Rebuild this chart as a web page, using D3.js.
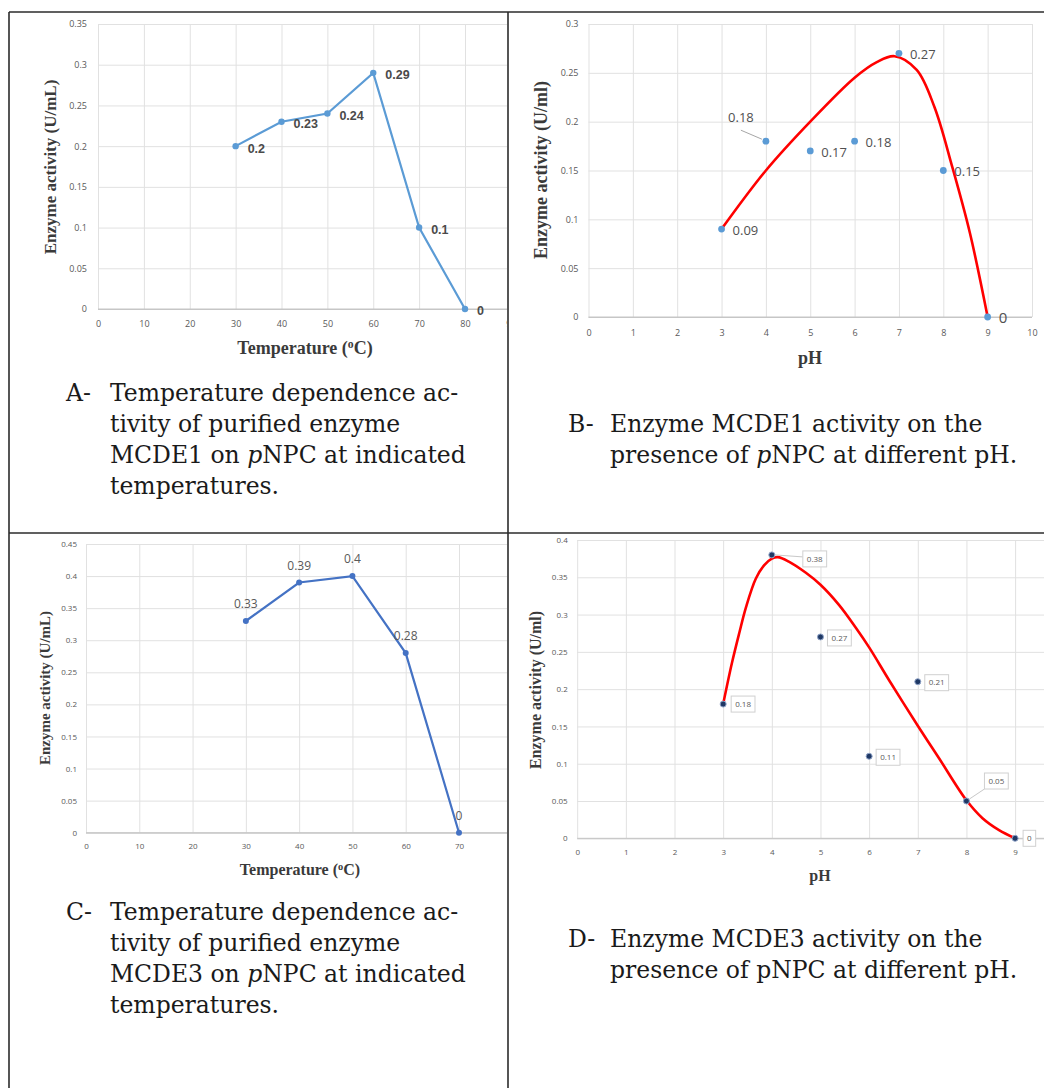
<!DOCTYPE html>
<html>
<head>
<meta charset="utf-8">
<script src="https://cdn.jsdelivr.net/npm/d3@7"></script>
<style>
  body { margin: 0; background: #fff; }
  .tick text { fill: #595959; font-family: "Open Sans", sans-serif; }
  .axisTitle { font-family: "Liberation Serif", serif; font-weight: bold; fill: #3a3a3a; }
  .caption { font-family: "DejaVu Serif", serif; fill: #1a1a1a; }
</style>
</head>
<body>
<div id="figure"></div>
<script>
var svgWidth = 1044;
var svgHeight = 1088;

// Panel A: MCDE1 vs temperature
var tempA = [30, 40, 50, 60, 70, 80];
var activityA = [0.2, 0.23, 0.24, 0.29, 0.1, 0];
var xTicksA = [0, 10, 20, 30, 40, 50, 60, 70, 80, 90];
var yTicksA = [0, 0.05, 0.1, 0.15, 0.2, 0.25, 0.3, 0.35];

// Panel B: MCDE1 vs pH (points + red trendline)
var phB = [3, 4, 5, 6, 7, 8, 9];
var activityB = [0.09, 0.18, 0.17, 0.18, 0.27, 0.15, 0];
var trendPhB = [3, 4, 5, 6, 6.5, 6.9, 7.4, 7.8, 8.2, 8.6, 9];
var trendB = [0.09, 0.15, 0.2, 0.245, 0.261, 0.267, 0.253, 0.215, 0.154, 0.086, 0];
var xTicksB = [0, 1, 2, 3, 4, 5, 6, 7, 8, 9, 10];
var yTicksB = [0, 0.05, 0.1, 0.15, 0.2, 0.25, 0.3];

// Panel C: MCDE3 vs temperature
var tempC = [30, 40, 50, 60, 70];
var activityC = [0.33, 0.39, 0.4, 0.28, 0];
var xTicksC = [0, 10, 20, 30, 40, 50, 60, 70];
var yTicksC = [0, 0.05, 0.1, 0.15, 0.2, 0.25, 0.3, 0.35, 0.4, 0.45];

// Panel D: MCDE3 vs pH
var phD = [3, 4, 5, 6, 7, 8, 9];
var activityD = [0.18, 0.38, 0.27, 0.11, 0.21, 0.05, 0];
var trendPhD = [3, 3.18, 3.33, 3.47, 3.67, 3.84, 4, 4.12, 4.35, 4.7, 5, 5.38, 5.73, 6, 6.42, 7, 7.44, 8, 8.33, 8.67, 9];
var trendD = [0.18, 0.235, 0.275, 0.31, 0.348, 0.366, 0.375, 0.377, 0.371, 0.356, 0.34, 0.313, 0.282, 0.256, 0.211, 0.151, 0.107, 0.051, 0.027, 0.011, 0];
var xTicksD = [0, 1, 2, 3, 4, 5, 6, 7, 8, 9];
var yTicksD = [0, 0.05, 0.1, 0.15, 0.2, 0.25, 0.3, 0.35, 0.4];

var fmt = d => String(+d.toFixed(2));

var svg = d3.select("#figure")
  .append("svg")
  .attr("width", svgWidth)
  .attr("height", svgHeight);

svg.append("rect").attr("width", svgWidth).attr("height", svgHeight).attr("fill", "#fff");

var defs = svg.append("defs");

function drawPanel(p) {
  defs.append("clipPath").attr("id", p.id)
    .append("rect").attr("x", p.clip[0]).attr("y", p.clip[1])
    .attr("width", p.clip[2]).attr("height", p.clip[3]);

  var g = svg.append("g").attr("clip-path", `url(#${p.id})`);

  var x = d3.scaleLinear().domain(p.xDomain).range(p.xRange);
  var y = d3.scaleLinear().domain(p.yDomain).range(p.yRange);
  var x0 = x(0), yBottom = y(0), yTop = y(p.yDomain[1]);

  // y axis with horizontal gridlines
  var leftAxis = d3.axisLeft(y)
    .tickValues(p.yTicks)
    .tickFormat(fmt)
    .tickSize(-(p.gridRight - x0))
    .tickPadding(p.yPad);
  var ya = g.append("g").attr("transform", `translate(${x0},0)`).call(leftAxis);
  ya.select(".domain").remove();
  ya.selectAll(".tick line").attr("stroke", d => d === 0 ? "#c6c6c6" : "#e1e1e1");
  ya.selectAll(".tick text").style("font-size", p.tickFont + "px");

  // x axis with vertical gridlines
  var bottomAxis = d3.axisBottom(x)
    .tickValues(p.xTicks)
    .tickFormat(fmt)
    .tickSize(-(yBottom - yTop))
    .tickPadding(p.xPad);
  var xa = g.append("g").attr("transform", `translate(0,${yBottom})`).call(bottomAxis);
  xa.select(".domain").remove();
  xa.selectAll(".tick line").attr("stroke", "#e1e1e1");
  xa.selectAll(".tick text").style("font-size", p.tickFont + "px");
  // keep the zero baseline on top of the vertical grid
  g.append("line").attr("x1", x0).attr("x2", p.gridRight)
    .attr("y1", yBottom).attr("y2", yBottom).attr("stroke", "#c6c6c6");

  // axis titles
  g.append("text").attr("class", "axisTitle")
    .attr("transform", `translate(${p.yTitle[0]},${p.yTitle[1]}) rotate(-90)`)
    .attr("text-anchor", "middle").attr("dy", "0.35em")
    .style("font-size", p.titleFont + "px")
    .text(p.yLabel);
  var xt = g.append("text").attr("class", "axisTitle")
    .attr("x", p.xTitle[0]).attr("y", p.xTitle[1])
    .attr("text-anchor", "middle").attr("dy", "0.35em")
    .style("font-size", p.xTitleFont + "px");
  if (p.degree) {
    xt.append("tspan").text("Temperature (");
    xt.append("tspan").attr("baseline-shift", "super").style("font-size", (p.xTitleFont * 0.65) + "px").text("o");
    xt.append("tspan").text("C)");
  } else {
    xt.text(p.xLabel);
  }

  var pts = p.xs.map((v, i) => ({x: v, y: p.ys[i], i: i}));

  if (p.trendX) {
    var trend = p.trendX.map((v, i) => [v, p.trendY[i]]);
    g.append("path")
      .datum(trend)
      .attr("fill", "none")
      .attr("stroke", "#ff0000")
      .attr("stroke-width", 2.6)
      .attr("d", d3.line().x(d => x(d[0])).y(d => y(d[1])).curve(d3.curveCatmullRom.alpha(0.5)));
  } else {
    g.append("path")
      .datum(pts)
      .attr("fill", "none")
      .attr("stroke", p.color)
      .attr("stroke-width", 2.2)
      .attr("d", d3.line().x(d => x(d.x)).y(d => y(d.y)));
  }

  g.append("g").selectAll("circle")
    .data(pts)
    .enter()
    .append("circle")
    .attr("cx", d => x(d.x))
    .attr("cy", d => y(d.y))
    .attr("r", p.r)
    .attr("fill", p.color)
    .attr("stroke", p.pointStroke || "none");

  p.labels(g, pts, x, y);
}

// Panel A
drawPanel({
  id: "clipA", clip: [10, 13, 497, 519],
  xDomain: [0, 80], xRange: [98, 465],
  yDomain: [0, 0.35], yRange: [309, 24],
  gridRight: 507, xTicks: xTicksA, yTicks: yTicksA,
  xPad: 12, yPad: 11, tickFont: 9,
  xs: tempA, ys: activityA, color: "#5b9bd5", r: 3.2,
  yLabel: "Enzyme activity (U/mL)", yTitle: [50, 167],
  degree: true, xTitle: [305, 348], titleFont: 17, xTitleFont: 18,
  labels: function(g, pts, x, y) {
    g.append("g").selectAll("text").data(pts).enter().append("text")
      .attr("x", d => x(d.x) + 12).attr("y", d => y(d.y) + 2)
      .attr("dy", "0.35em")
      .style("font-family", "'Liberation Sans', sans-serif")
      .style("font-weight", "bold").style("font-size", "12.5px")
      .attr("fill", "#4a4a4a")
      .text(d => fmt(d.y));
  }
});

// Panel B
drawPanel({
  id: "clipB", clip: [509, 13, 535, 519],
  xDomain: [0, 10], xRange: [588.5, 1032],
  yDomain: [0, 0.3], yRange: [317, 24],
  gridRight: 1032, xTicks: xTicksB, yTicks: yTicksB,
  xPad: 13, yPad: 10, tickFont: 9,
  xs: phB, ys: activityB, color: "#5b9bd5", r: 3.4,
  trendX: trendPhB, trendY: trendB,
  yLabel: "Enzyme activity (U/ml)", yTitle: [541, 170],
  xLabel: "pH", xTitle: [810, 358], titleFont: 18, xTitleFont: 18,
  labels: function(g, pts, x, y) {
    var lg = g.append("g");
    pts.forEach(function(d) {
      var px = x(d.x), py = y(d.y);
      if (d.i === 1) {
        lg.append("line").attr("x1", px - 25).attr("y1", py - 11)
          .attr("x2", px - 4).attr("y2", py - 2)
          .attr("stroke", "#a6a6a6").attr("stroke-width", 1);
        lg.append("text").attr("x", px - 25).attr("y", py - 24)
          .attr("text-anchor", "middle").attr("dy", "0.35em")
          .style("font-family", "'Open Sans', sans-serif").style("font-size", "13px")
          .attr("fill", "#505050").text(fmt(d.y));
      } else {
        lg.append("text").attr("x", px + 11).attr("y", py + 1)
          .attr("dy", "0.35em")
          .style("font-family", "'Open Sans', sans-serif")
          .style("font-size", d.y === 0 ? "15px" : "13px")
          .attr("fill", "#505050").text(fmt(d.y));
      }
    });
  }
});

// Panel C
drawPanel({
  id: "clipC", clip: [10, 535, 497, 553],
  xDomain: [0, 70], xRange: [86, 459],
  yDomain: [0, 0.45], yRange: [832.7, 544],
  gridRight: 507, xTicks: xTicksC, yTicks: yTicksC,
  xPad: 11, yPad: 9, tickFont: 8,
  xs: tempC, ys: activityC, color: "#4472c4", r: 3,
  yLabel: "Enzyme activity (U/mL)", yTitle: [45, 688],
  degree: true, xTitle: [300, 869], titleFont: 15, xTitleFont: 16,
  labels: function(g, pts, x, y) {
    g.append("g").selectAll("text").data(pts).enter().append("text")
      .attr("x", d => x(d.x)).attr("y", d => y(d.y) - 17)
      .attr("text-anchor", "middle").attr("dy", "0.35em")
      .style("font-family", "'Open Sans', sans-serif").style("font-size", "12px")
      .attr("fill", "#595959")
      .text(d => fmt(d.y));
  }
});

// Panel D (label boxes: offset of box from its point)
var boxOffsetD = [[8, 0], [31, 4], [7, 1], [7, 1], [7, 1], [18, -20], [8, 0]];
drawPanel({
  id: "clipD", clip: [509, 535, 535, 553],
  xDomain: [0, 9], xRange: [577.2, 1015.1],
  yDomain: [0, 0.4], yRange: [838.3, 540],
  gridRight: 1044, xTicks: xTicksD, yTicks: yTicksD,
  xPad: 11, yPad: 9.5, tickFont: 8,
  xs: phD, ys: activityD, color: "#1f3864", pointStroke: "#8fa3c8", r: 3,
  trendX: trendPhD, trendY: trendD,
  yLabel: "Enzyme activity (U/ml)", yTitle: [535, 690],
  xLabel: "pH", xTitle: [820, 875], titleFont: 16, xTitleFont: 16,
  labels: function(g, pts, x, y) {
    var lg = g.append("g");
    pts.forEach(function(d) {
      var px = x(d.x), py = y(d.y);
      var off = boxOffsetD[d.i];
      var bx = px + off[0], by = py + off[1];
      var t = lg.append("text").attr("x", bx + 4).attr("y", by)
        .attr("dy", "0.35em")
        .style("font-family", "'Open Sans', sans-serif").style("font-size", "8px")
        .attr("fill", "#595959").text(fmt(d.y));
      var w = t.node().getComputedTextLength() + 8;
      if (off[0] > 10) {
        lg.insert("line", "text").attr("x1", px + 3).attr("y1", py + (off[1] < 0 ? -2 : 0))
          .attr("x2", bx).attr("y2", by + (off[1] < 0 ? 8 : -2))
          .attr("stroke", "#c8c8c8").attr("stroke-width", 1);
      }
      lg.insert("rect", "text").attr("x", bx).attr("y", by - 8)
        .attr("width", w).attr("height", 16)
        .attr("fill", "#fff").attr("stroke", "#d0d0d0");
    });
  }
});

// table rules
var rules = [
  [9, 12, 1044, 12],
  [9, 12, 9, 1088],
  [508, 12, 508, 1088],
  [9, 533, 1044, 533]
];
svg.append("g").selectAll("line").data(rules).enter().append("line")
  .attr("x1", d => d[0]).attr("y1", d => d[1])
  .attr("x2", d => d[2]).attr("y2", d => d[3])
  .attr("stroke", "#2b2b2b").attr("stroke-width", 1.6);

// captions
var captionA = [
  [["Temperature dependence ac-"]],
  [["tivity of purified enzyme"]],
  [["MCDE1 on "], ["p", 1], ["NPC at indicated"]],
  [["temperatures."]]
];
var captionB = [
  [["Enzyme MCDE1 activity on the"]],
  [["presence of "], ["p", 1], ["NPC at different pH."]]
];
var captionC = [
  [["Temperature dependence ac-"]],
  [["tivity of purified enzyme"]],
  [["MCDE3 on "], ["p", 1], ["NPC at indicated"]],
  [["temperatures."]]
];
var captionD = [
  [["Enzyme MCDE3 activity on the"]],
  [["presence of pNPC at different pH."]]
];

function caption(letter, lx, tx, y0, lines) {
  var g = svg.append("g").attr("class", "caption").style("font-size", "23.5px");
  g.append("text").attr("x", lx).attr("y", y0).attr("dy", "0.35em").text(letter);
  lines.forEach(function(line, k) {
    var t = g.append("text").attr("x", tx).attr("y", y0 + k * 30.8).attr("dy", "0.35em");
    line.forEach(function(seg) {
      t.append("tspan").style("font-style", seg[1] ? "italic" : "normal").text(seg[0]);
    });
  });
}

caption("A-", 66, 110, 393, captionA);
caption("B-", 568, 610, 424, captionB);
caption("C-", 66, 110, 912, captionC);
caption("D-", 568, 610, 939, captionD);
</script>
</body>
</html>
